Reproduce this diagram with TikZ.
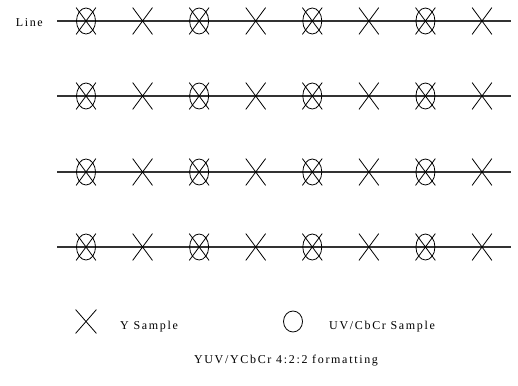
\documentclass[tikz,border=0pt]{standalone}
\usepackage{fontspec}
\setmainfont{Liberation Serif}[LetterSpace=14]
\usetikzlibrary{shapes.misc,shapes.geometric}
\begin{document}
\begin{tikzpicture}[x=1pt,y=-1pt,
  rowline/.style={draw=black!80,line width=1.3pt},
  ymark/.style={cross out,draw,line width=0.8pt,minimum width=19pt,minimum height=26pt,inner sep=0pt},
  cmark/.style={ellipse,draw,line width=0.8pt,minimum width=19pt,minimum height=26pt,inner sep=0pt},
  lbl/.style={font=\fontsize{12}{14}\selectfont,inner sep=0pt}]
\useasboundingbox (0,0) rectangle (518,385);
\foreach \r/\yy in {1/21,2/96,3/172,4/247}{
  \coordinate (s\r) at (57,\yy);
  \coordinate (e\r) at (511,\yy);
  \draw[rowline] (s\r) -- (e\r);
  \foreach \i in {0,...,7}{
    \pgfmathsetmacro\xx{86+56.57*\i}
    \node[ymark] (y\r-\i) at (\xx,\yy) {};
    \ifodd\i\else
      \node[cmark] (c\r-\i) at (\xx,\yy) {};
    \fi
  }
}
\node[lbl,anchor=east] (line) at (43,23) {Line};
\node[ymark,minimum height=23pt,minimum width=20pt] (ly) at (86,321.5) {};
\node[lbl,anchor=west] (lyt) at (120,327) {Y Sample};
\node[cmark,minimum height=21pt,minimum width=19pt] (lc) at (293,321.5) {};
\node[lbl,anchor=west] (lct) at (329,327) {UV/CbCr Sample};
\node[lbl] (title) at (286,361) {YUV/YCbCr 4:2:2 formatting};
\end{tikzpicture}
\end{document}
